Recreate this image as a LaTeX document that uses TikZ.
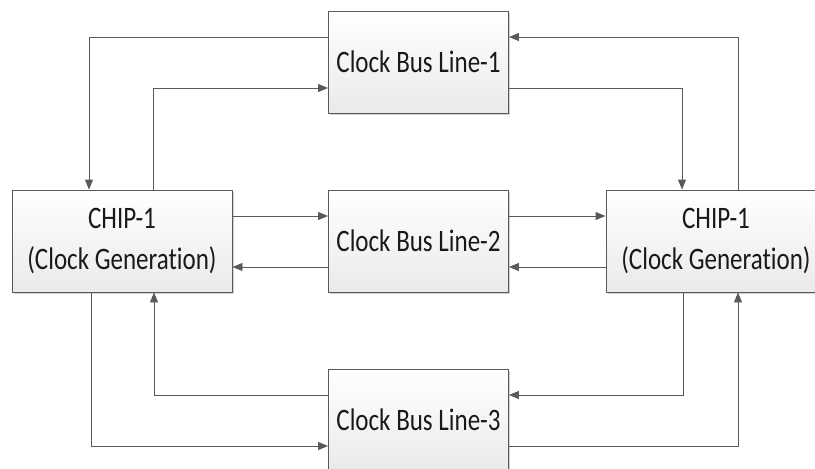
\documentclass[tikz,border=0pt]{standalone}
\usepackage{fontspec}
\setmainfont{Carlito}
% tall, narrow setting of the box labels
\newfontfamily\boxfont{Carlito}[FakeStretch=0.8, Ligatures=NoCommon]
\usetikzlibrary{arrows.meta,shadows}
\definecolor{edge}{HTML}{595959}
\definecolor{boxtop}{HTML}{FFFFFF}
\definecolor{boxbot}{HTML}{EAEAEA}
\tikzset{
  block/.style={draw=edge, line width=0.9pt, rectangle, minimum height=102pt,
    top color=boxtop, bottom color=boxbot, align=center, inner sep=0pt,
    font=\boxfont\fontsize{31.25}{41}\selectfont, text=black!90,
    drop shadow={shadow xshift=1.6pt, shadow yshift=-1.6pt, fill=black, opacity=.18}},
  busbox/.style={block, minimum width=180pt},
  chipbox/.style={block, minimum width=220pt},
  conn/.style={draw=edge, line width=0.9pt, -{Triangle[length=10pt,width=8pt]}}
}
\begin{document}
\begin{tikzpicture}[x=1pt,y=-1pt]
  \useasboundingbox[fill=white] (0,0) rectangle (815,469);
  \begin{scope}
    \clip (0,0) rectangle (815,469);
    % bus lines in the middle column
    \node[busbox] (line1) at (418.5,62) {Clock Bus Line-1};
    \node[busbox] (line2) at (418.5,241) {Clock Bus Line-2};
    \node[busbox] (line3) at (418.5,420) {Clock Bus Line-3};
    % chips on both sides
    \node[chipbox] (chipL) at (122,241) {CHIP-1\\(Clock Generation)};
    \node[chipbox] (chipR) at (716,241) {CHIP-1\\(Clock Generation)};

    % upper loop
    \draw[conn] ([yshift=25pt]line1.west) -| ([xshift=-33pt]chipL.north);
    \draw[conn] ([xshift=31pt]chipL.north) |- ([yshift=-26pt]line1.west);
    \draw[conn] ([yshift=-26pt]line1.east) -| ([xshift=-34pt]chipR.north);
    \draw[conn] ([xshift=22pt]chipR.north) |- ([yshift=25pt]line1.east);

    % middle links
    \draw[conn] ([yshift=25pt]chipL.east) -- ([yshift=25pt]line2.west);
    \draw[conn] ([yshift=25pt]line2.east) -- ([yshift=25pt]chipR.west);
    \draw[conn] ([yshift=-26pt]chipR.west) -- ([yshift=-26pt]line2.east);
    \draw[conn] ([yshift=-26pt]line2.west) -- ([yshift=-26pt]chipL.east);

    % lower loop
    \draw[conn] ([yshift=25pt]line3.west) -| ([xshift=32pt]chipL.south);
    \draw[conn] ([xshift=-31pt]chipL.south) |- ([yshift=-26pt]line3.west);
    \draw[conn] ([xshift=-33pt]chipR.south) |- ([yshift=25pt]line3.east);
    \draw[conn] ([yshift=-26pt]line3.east) -| ([xshift=22pt]chipR.south);
  \end{scope}
\end{tikzpicture}
\end{document}
